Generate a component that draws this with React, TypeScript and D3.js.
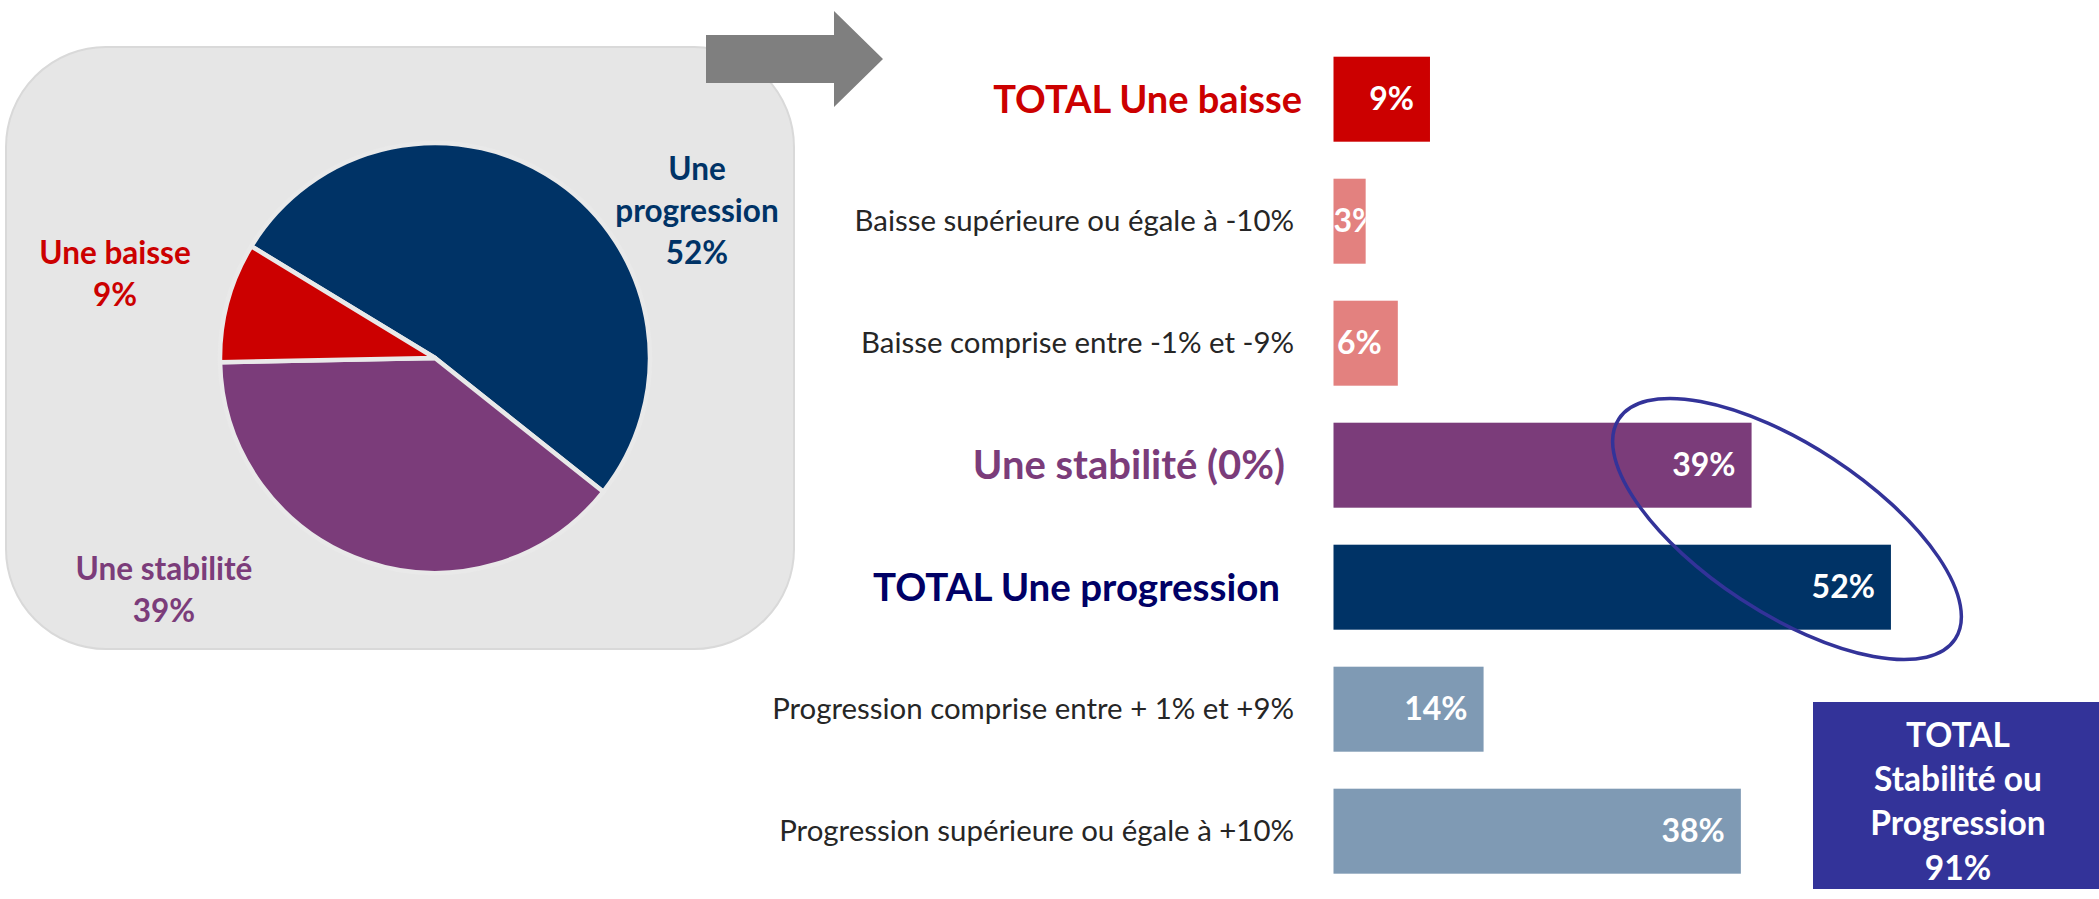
import React, { useRef, useEffect } from "react";
import * as d3 from "d3";

// pie: share of answers
const pieCategories = ["Une progression", "Une stabilité", "Une baisse"];
const pieValues = [52, 39, 9];

// bars: detail
const barCategories = [
  "TOTAL Une baisse",
  "Baisse supérieure ou égale à -10%",
  "Baisse comprise entre -1% et -9%",
  "Une stabilité (0%)",
  "TOTAL Une progression",
  "Progression comprise entre + 1% et +9%",
  "Progression supérieure ou égale à +10%",
];
const barValues = [9, 3, 6, 39, 52, 14, 38];

// summary box
const totalLines = ["TOTAL", "Stabilité ou", "Progression"];
const totalValue = 91;

const W = 2099;
const H = 899;
const FONT = "Lato, 'Noto Sans', sans-serif";

const pieColors = ["#003366", "#7b3c7a", "#cc0000"];
const barColors = ["#cc0000", "#e3817f", "#e3817f", "#7b3c7a", "#003366", "#7f9ab4", "#7f9ab4"];
// label styles per row
const rowStyle = [
  { color: "#cc0000", bold: true, size: 38, right: 1302 },
  { color: "#262626", bold: false, size: 29.4, right: 1294 },
  { color: "#262626", bold: false, size: 29.4, right: 1294 },
  { color: "#7b3c7a", bold: true, size: 40, right: 1285 },
  { color: "#000066", bold: true, size: 38.5, right: 1280 },
  { color: "#262626", bold: false, size: 29.4, right: 1294 },
  { color: "#262626", bold: false, size: 29.4, right: 1294 },
];
// pie label placement (center x, first baseline, relative to pie centre)
const pieLabelPos = [
  { dx: 262, dy: -178, lines: ["Une", "progression"] },
  { dx: -271, dy: 222, lines: ["Une stabilité"] },
  { dx: -320, dy: -94, lines: ["Une baisse"] },
];

const App = () => {
  const svgRef = useRef(null);

  useEffect(() => {
    document.body.style.margin = "0";
    document.body.style.overflow = "hidden";
    const svg = d3.select(svgRef.current);
    svg.selectAll("*").remove();
    svg.attr("width", W).attr("height", H).style("display", "block").style("background", "#fff");

    // grey rounded panel behind the pie
    svg.append("rect")
      .attr("x", 6).attr("y", 47).attr("width", 788).attr("height", 602)
      .attr("rx", 100).attr("ry", 100)
      .attr("fill", "#e6e6e6").attr("stroke", "#d9d9d9").attr("stroke-width", 2);

    // arrow
    svg.append("path")
      .attr("d", "M706,35 L834,35 L834,11 L883,59 L834,107 L834,83 L706,83 Z")
      .attr("fill", "#7f7f7f");

    // pie
    const cx = 435, cy = 358, r = 215;
    const start = (-58.7 * Math.PI) / 180;
    const pie = d3.pie<number>().sort(null).startAngle(start).endAngle(start + 2 * Math.PI);
    const arc = d3.arc<d3.PieArcDatum<number>>().innerRadius(0).outerRadius(r);
    const gPie = svg.append("g").attr("transform", `translate(${cx},${cy})`);
    gPie.selectAll("path")
      .data(pie(pieValues))
      .join("path")
      .attr("d", arc)
      .attr("fill", (d, i) => pieColors[i])
      .attr("stroke", "#e9e9e9")
      .attr("stroke-width", 4.5)
      .attr("stroke-linejoin", "round");

    pieCategories.forEach((c, i) => {
      const p = pieLabelPos[i];
      const t = gPie.append("text")
        .attr("text-anchor", "middle")
        .attr("font-family", FONT)
        .attr("font-weight", 700)
        .attr("font-size", 31.5)
        .attr("fill", pieColors[i]);
      const lines = [...p.lines, `${pieValues[i]}%`];
      lines.forEach((ln, k) => {
        t.append("tspan").attr("x", p.dx).attr("y", p.dy + k * 42).text(ln);
      });
    });

    // bars
    const x = d3.scaleLinear().domain([0, 100]).range([1333.5, 1333.5 + 1072]);
    const y = d3.scaleBand().domain(barCategories).range([38.2, 892.2])
      .paddingInner(0.3033).paddingOuter(0.1517);

    const defs = svg.append("defs");
    const gBars = svg.append("g");
    barCategories.forEach((c, i) => {
      const y0 = y(c);
      const bw = y.bandwidth();
      const x0 = x(0);
      const x1 = x(barValues[i]);
      gBars.append("rect")
        .attr("x", x0).attr("y", y0).attr("width", x1 - x0).attr("height", bw)
        .attr("fill", barColors[i]);

      const cid = `clip-bar-${i}`;
      defs.append("clipPath").attr("id", cid)
        .append("rect").attr("x", x0).attr("y", y0).attr("width", x1 - x0).attr("height", bw);

      const vt = gBars.append("text")
        .attr("clip-path", `url(#${cid})`)
        .attr("font-family", FONT)
        .attr("font-weight", 700)
        .attr("font-size", 32)
        .attr("fill", "#fff")
        .attr("y", y0 + bw / 2 + 11)
        .text(`${barValues[i]}%`);
      const tw = (vt.node() as SVGTextElement).getComputedTextLength();
      const pad = 16;
      let tx = x1 - pad - tw;
      if (tx < x0) tx = x0 + Math.max(0, (x1 - x0 - tw) / 2);
      vt.attr("x", tx);

      const st = rowStyle[i];
      gBars.append("text")
        .attr("x", st.right)
        .attr("y", y0 + bw / 2 + st.size * 0.35)
        .attr("text-anchor", "end")
        .attr("font-family", FONT)
        .attr("font-weight", st.bold ? 700 : 400)
        .attr("font-size", st.size)
        .attr("fill", st.color)
        .text(c);
    });

    // highlight ellipse around stability + progression
    svg.append("ellipse")
      .attr("cx", 1787).attr("cy", 529).attr("rx", 201).attr("ry", 84)
      .attr("transform", "rotate(33.2 1787 529)")
      .attr("fill", "none").attr("stroke", "#333399").attr("stroke-width", 3.5);

    // summary box
    svg.append("rect")
      .attr("x", 1813).attr("y", 702).attr("width", W - 1813).attr("height", 187)
      .attr("fill", "#333399");
    const tt = svg.append("text")
      .attr("text-anchor", "middle")
      .attr("font-family", FONT)
      .attr("font-weight", 700)
      .attr("font-size", 33.5)
      .attr("fill", "#fff");
    [...totalLines, `${totalValue}%`].forEach((ln, k) => {
      tt.append("tspan").attr("x", 1958).attr("y", 747 + k * 44.2).text(ln);
    });
  }, []);

  return <svg ref={svgRef}></svg>;
};

export default App;
